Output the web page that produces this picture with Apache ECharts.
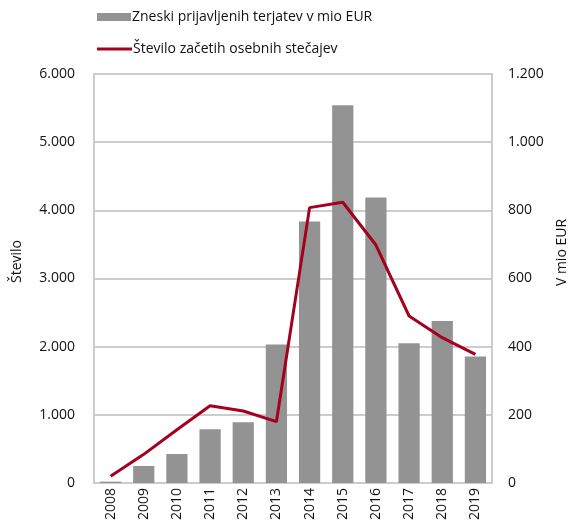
<!DOCTYPE html>
<html>
<head>
<meta charset="utf-8">
<script src="https://cdn.jsdelivr.net/npm/echarts@6/dist/echarts.min.js"></script>
<style>html,body{margin:0;padding:0;background:#fff}#c{width:569px;height:526px}</style>
</head>
<body>
<div id="c"></div>
<script>
const years = ['2008','2009','2010','2011','2012','2013','2014','2015','2016','2017','2018','2019'];
const amountsMioEur = [4, 50, 85, 158, 178, 406, 767, 1108, 838, 410, 475, 371];
const bankruptcies = [100, 420, 780, 1134, 1056, 900, 4040, 4118, 3491, 2450, 2132, 1888];
const leftTicks = [0, 1000, 2000, 3000, 4000, 5000, 6000];
const rightTicks = [0, 200, 400, 600, 800, 1000, 1200];

const barName = 'Zneski prijavljenih terjatev v mio EUR';
const lineName = 'Število začetih osebnih stečajev';
const fmt = v => String(v).replace(/\B(?=(\d{3})+(?!\d))/g, '.');
const font = 'Open Sans';
const gridColor = '#cccccc';
const legendText = {fontFamily: font, fontSize: 14, color: '#111', padding: [0,0,0,-4]};

const chart = echarts.init(document.getElementById('c'));
chart.setOption({
  animation: false,
  textStyle: {fontFamily: font},
  legend: [{
    left: 92, top: 5,
    itemWidth: 34, itemHeight: 8,
    textStyle: legendText,
    data: [{name: barName, icon: 'rect'}]
  }, {
    left: 92, top: 37,
    itemWidth: 35, itemHeight: 3,
    textStyle: legendText,
    data: [{name: lineName, icon: 'rect'}]
  }],
  grid: {left: 94, right: 77, top: 74, bottom: 43, show: true, borderColor: gridColor, borderWidth: 2,
         containLabel: false, outerBoundsMode: 'none'},
  xAxis: {
    type: 'category', data: years,
    axisLine: {lineStyle: {color: gridColor, width: 2}},
    axisTick: {show: false},
    axisLabel: {rotate: 90, fontFamily: font, fontSize: 14, color: '#111', margin: 5}
  },
  yAxis: [{
    type: 'value', min: leftTicks[0], max: leftTicks[leftTicks.length-1], interval: 1000,
    name: 'Število', nameLocation: 'middle', nameGap: 70, nameRotate: 90,
    nameTextStyle: {fontFamily: font, fontSize: 14, color: '#111', padding: [0,0,0,34]},
    axisLine: {show: false}, axisTick: {show: false},
    splitLine: {lineStyle: {color: gridColor, width: 2}},
    axisLabel: {formatter: fmt, fontFamily: font, fontSize: 14, color: '#111', margin: 19}
  }, {
    type: 'value', min: rightTicks[0], max: rightTicks[rightTicks.length-1], interval: 200,
    name: 'V mio EUR', nameLocation: 'middle', nameGap: 60, nameRotate: 90,
    nameTextStyle: {fontFamily: font, fontSize: 14, color: '#111', padding: [0,0,0,52]},
    axisLine: {show: false}, axisTick: {show: false},
    splitLine: {show: false},
    axisLabel: {formatter: fmt, fontFamily: font, fontSize: 14, color: '#111', margin: 16}
  }],
  series: [{
    name: barName, type: 'bar', yAxisIndex: 1, data: amountsMioEur,
    barWidth: '64%', itemStyle: {color: '#939393'}
  }, {
    name: lineName, type: 'line', yAxisIndex: 0, data: bankruptcies,
    symbol: 'none', lineStyle: {color: '#a5001e', width: 3}, itemStyle: {color: '#a5001e'}
  }]
});
</script>
</body>
</html>
